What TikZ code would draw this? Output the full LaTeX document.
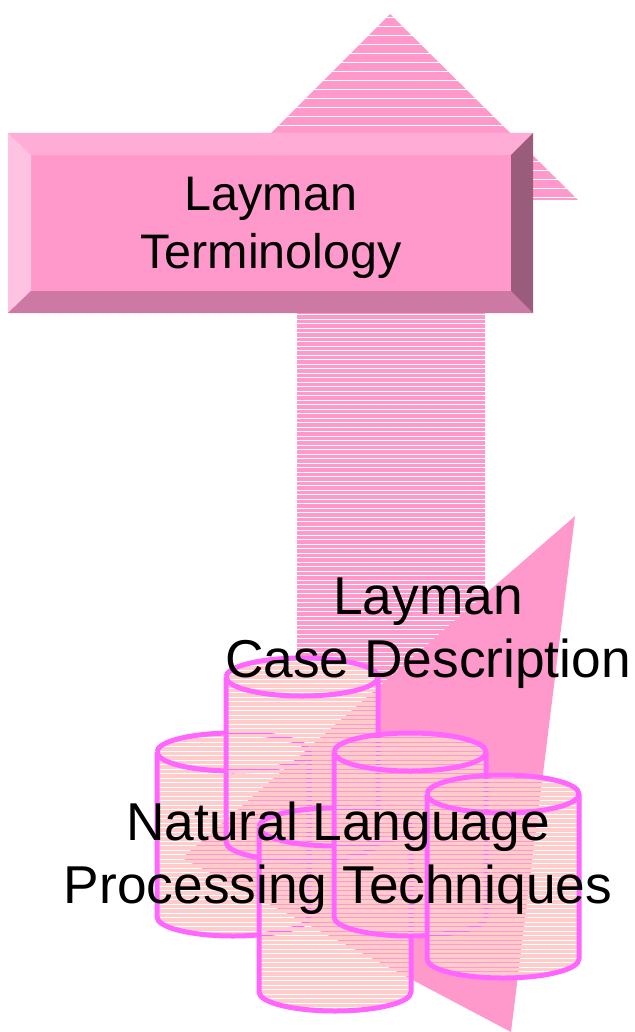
\documentclass[tikz,border=0pt]{standalone}
\usepackage{fontspec}
\setmainfont{Liberation Sans}
\definecolor{rosefill}{HTML}{FF99CC}
\definecolor{rosetop}{HTML}{FFADD6}
\definecolor{roseleft}{HTML}{FFC2E0}
\definecolor{rosebottom}{HTML}{CC7AA3}
\definecolor{roseright}{HTML}{995C7A}
\definecolor{cylfill}{HTML}{FFCCCC}
\definecolor{cylline}{HTML}{FF66FF}
\tikzset{
  cylrim/.style={draw=cylline,line width=5pt,line join=round},
  bigtext/.style={align=center,inner sep=0pt,font=\fontsize{53.3}{63.5}\selectfont},
  boxtext/.style={align=center,inner sep=0pt,font=\fontsize{48.5}{58}\selectfont},
}
% stripes stay on one grid, so gaps line up through every layer
\newcommand{\stripes}[1]{
  \foreach \k in {2,...,235}
    \fill[#1] (0,-\k*4.5) rectangle (634,-\k*4.5-3.6);
}
% striped barrel: left edge, top edge (pixels from the top)
\newcommand{\barrel}[2]{
  \begin{scope}
    \clip (#1,-#2-19) arc[start angle=180,end angle=0,x radius=76,y radius=19]
      -- ++(0,-165) arc[start angle=0,end angle=-180,x radius=76,y radius=19] -- cycle;
    \stripes{cylfill}
  \end{scope}
  \draw[cylrim] (#1,-#2-19) arc[start angle=180,end angle=-180,x radius=76,y radius=19];
  \draw[cylrim] (#1,-#2-19) -- ++(0,-165) arc[start angle=180,end angle=360,x radius=76,y radius=19] -- ++(0,165);
}
\begin{document}
\begin{tikzpicture}[x=1pt,y=1pt]
  \useasboundingbox (0,0) rectangle (634,-1032);
  % up arrow
  \begin{scope}
    \clip (390,-14) -- (578,-200) -- (485,-200) -- (485,-700) -- (297,-700) -- (297,-200) -- (204,-200) -- cycle;
    \stripes{rosefill}
  \end{scope}
  % triangle
  \fill[rosefill] (575,-516) -- (511,-1032) -- (182,-858) -- cycle;
  % barrels
  \barrel{157}{733}
  \barrel{226}{658}
  \barrel{259}{808}
  \barrel{334}{733}
  \barrel{427}{775}
  % bevelled box
  \fill[rosefill] (8,-133) rectangle (533,-313);
  \fill[rosetop] (8,-133) -- (533,-133) -- (511,-155) -- (31,-155) -- cycle;
  \fill[roseleft] (8,-133) -- (31,-155) -- (31,-291) -- (8,-313) -- cycle;
  \fill[rosebottom] (8,-313) -- (31,-291) -- (511,-291) -- (533,-313) -- cycle;
  \fill[roseright] (533,-133) -- (511,-155) -- (511,-291) -- (533,-313) -- cycle;
  % labels
  \node[boxtext] (terms) at (271,-228) {Layman\\Terminology};
  \node[bigtext] (caselabel) at (428,-633) {Layman\\Case Description};
  \node[bigtext] (nlplabel) at (338,-858) {Natural Language\\Processing Techniques};
\end{tikzpicture}
\end{document}
